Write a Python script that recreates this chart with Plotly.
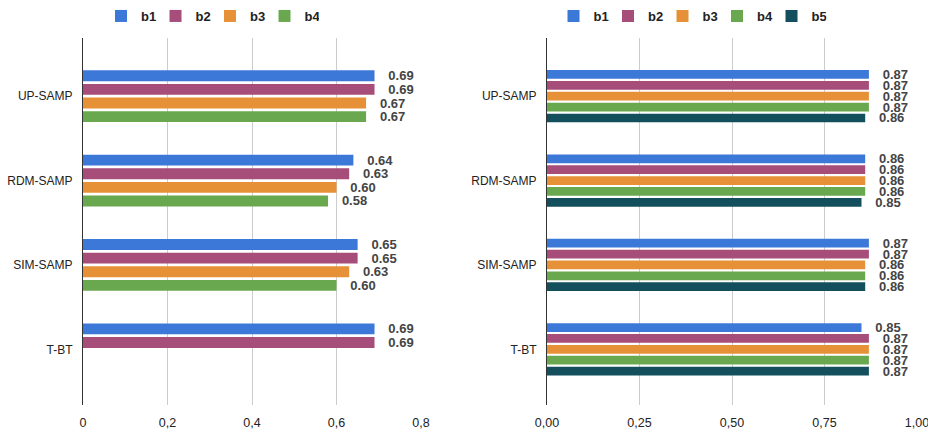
import plotly.graph_objects as go

categories = ["UP-SAMP", "RDM-SAMP", "SIM-SAMP", "T-BT"]

left_names = ["b1", "b2", "b3", "b4"]
left_b1 = [0.69, 0.64, 0.65, 0.69]
left_b2 = [0.69, 0.63, 0.65, 0.69]
left_b3 = [0.67, 0.60, 0.63, None]
left_b4 = [0.67, 0.58, 0.60, None]

right_names = ["b1", "b2", "b3", "b4", "b5"]
right_b1 = [0.87, 0.86, 0.87, 0.85]
right_b2 = [0.87, 0.86, 0.87, 0.87]
right_b3 = [0.87, 0.86, 0.86, 0.87]
right_b4 = [0.87, 0.86, 0.86, 0.87]
right_b5 = [0.86, 0.85, 0.86, 0.87]

left_ticks = [0, 0.2, 0.4, 0.6, 0.8]
right_ticks = [0, 0.25, 0.5, 0.75, 1.0]

series_colors = ["#3C78D8", "#A64D79", "#E69138", "#6AA84F", "#134F5C"]

W, H = 928, 432
FONT = "Liberation Sans, Arial, Helvetica, sans-serif"
PAD = "\u00a0\u00a0\u00a0"


def labels(vals):
    return [PAD + f"{v:.2f}" if v is not None else "" for v in vals]


fig = go.Figure()

for name, vals, col in zip(left_names, [left_b1, left_b2, left_b3, left_b4], series_colors):
    fig.add_trace(go.Bar(
        y=categories, x=vals, name=name, orientation="h",
        marker=dict(color=col, line=dict(width=0)),
        text=labels(vals), textposition="outside", constraintext="none",
        cliponaxis=False,
        outsidetextfont=dict(family=FONT, size=13, color="#444444", weight="bold"),
        xaxis="x", yaxis="y", legend="legend", hoverinfo="x+y",
    ))

for name, vals, col in zip(right_names, [right_b1, right_b2, right_b3, right_b4, right_b5], series_colors):
    fig.add_trace(go.Bar(
        y=categories, x=vals, name=name, orientation="h",
        marker=dict(color=col, line=dict(width=0)),
        text=labels(vals), textposition="outside", constraintext="none",
        cliponaxis=False,
        outsidetextfont=dict(family=FONT, size=13, color="#444444", weight="bold"),
        xaxis="x2", yaxis="y2", legend="legend2", hoverinfo="x+y",
    ))

y_dom = [1 - 405 / H, 1 - 38 / H]
y_range = [3.66, -0.69]

axis_common = dict(
    showgrid=True, gridcolor="#cccccc", gridwidth=1, zeroline=False,
    showline=False, ticks="", automargin=False, fixedrange=True,
    tickfont=dict(family=FONT, size=12.5, color="#222222"),
    ticklabelstandoff=8, ticklabeloverflow="allow",
)
yaxis_common = dict(
    type="category", categoryorder="array", categoryarray=categories,
    range=y_range, showgrid=False, zeroline=False,
    showline=True, linecolor="#333333", linewidth=1,
    ticks="", automargin=False, fixedrange=True,
    tickfont=dict(family=FONT, size=12, color="#222222"),
    ticklabelstandoff=7,
)

legend_common = dict(
    orientation="h", xanchor="center", yanchor="middle",
    font=dict(family=FONT, size=13, color="#222222", weight="bold"),
    bgcolor="rgba(0,0,0,0)", entrywidth=9.5, itemclick=False, itemdoubleclick=False,
)

fig.update_layout(
    width=W, height=H,
    margin=dict(l=0, r=0, t=0, b=0),
    paper_bgcolor="white", plot_bgcolor="white",
    separators=",.",
    barmode="group", bargap=0.355, bargroupgap=0.2,
    showlegend=True,
    font=dict(family=FONT),
    xaxis=dict(domain=[83 / W, 421 / W], range=[0, 0.8], tickvals=left_ticks, anchor="y", **axis_common),
    yaxis=dict(domain=y_dom, anchor="x", **yaxis_common),
    xaxis2=dict(domain=[547 / W, 917 / W], range=[0, 1.0], tickvals=right_ticks, tickformat=".2f", anchor="y2", **axis_common),
    yaxis2=dict(domain=y_dom, anchor="x2", **yaxis_common),
    legend=dict(x=210 / W, y=1 - 16 / H, **legend_common),
    legend2=dict(x=690 / W, y=1 - 16 / H, **legend_common),
)

fig.write_html(
    "out.html",
    config={"displayModeBar": False},
    post_script="document.body.style.margin='0';document.body.style.padding='0';",
)
